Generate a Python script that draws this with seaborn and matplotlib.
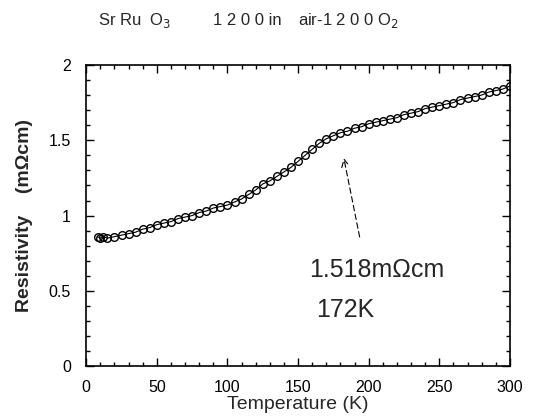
import matplotlib
matplotlib.use("Agg")
import matplotlib.pyplot as plt
import seaborn as sns
from matplotlib.ticker import MultipleLocator

# -------------------------
# data
# -------------------------
temperature = [8, 10, 12, 15, 20, 25, 30, 35, 40, 45, 50, 55, 60, 65, 70, 75,
               80, 85, 90, 95, 100, 105, 110, 115, 120, 125, 130, 135, 140,
               145, 150, 155, 160, 165, 170, 175, 180, 185, 190, 195, 200,
               205, 210, 215, 220, 225, 230, 235, 240, 245, 250, 255, 260,
               265, 270, 275, 280, 285, 290, 295, 300]
resistivity = [0.86, 0.85, 0.86, 0.85, 0.86, 0.87, 0.88, 0.89, 0.91, 0.92,
               0.94, 0.95, 0.96, 0.98, 0.99, 1.00, 1.02, 1.03, 1.05, 1.06,
               1.07, 1.09, 1.11, 1.14, 1.17, 1.21, 1.23, 1.26, 1.29, 1.32,
               1.36, 1.40, 1.44, 1.48, 1.51, 1.53, 1.55, 1.56, 1.58, 1.59,
               1.61, 1.62, 1.63, 1.64, 1.65, 1.67, 1.68, 1.69, 1.71, 1.72,
               1.73, 1.74, 1.75, 1.77, 1.78, 1.79, 1.80, 1.82, 1.83, 1.84,
               1.86]

x_ticks = [0, 50, 100, 150, 200, 250, 300]
y_ticks = [0, 0.5, 1, 1.5, 2]
y_tick_labels = ["0", "0.5", "1", "1.5", "2"]

# -------------------------
# style
# -------------------------
sns.set_style("ticks")
plt.rcParams["font.family"] = ["Liberation Sans", "DejaVu Sans"]

fig = plt.figure(figsize=(5.39, 4.19), dpi=100)
ax = fig.add_axes([0.16, 0.126, 0.786, 0.719])

sns.lineplot(x=temperature, y=resistivity, ax=ax, color="black", lw=0.8,
             marker="o", markersize=5.5, markerfacecolor="none",
             markeredgecolor="black", markeredgewidth=1.0)

ax.set_xlim(0, 300)
ax.set_ylim(0, 2)
ax.set_xticks(x_ticks)
ax.set_yticks(y_ticks)
ax.set_yticklabels(y_tick_labels)
ax.xaxis.set_minor_locator(MultipleLocator(10))
ax.yaxis.set_minor_locator(MultipleLocator(0.1))
ax.tick_params(which="both", direction="in", top=True, right=True,
               labelsize=11.5, width=1, colors="black")
ax.tick_params(axis="x", which="major", pad=10)
ax.tick_params(axis="y", which="major", pad=11)
ax.tick_params(which="major", length=6)
ax.tick_params(which="minor", length=3)
for s in ax.spines.values():
    s.set_linewidth(1.2)
    s.set_color("black")

ax.set_xlabel("Temperature (K)", fontsize=14, labelpad=1)
ax.set_ylabel("Resistivity    (m\u03a9cm)", fontsize=14, fontweight="bold",
              labelpad=11)

# header, spread out like the original lettering
fig.text(0.182, 0.94, "Sr Ru  O$_3$", fontsize=12)
fig.text(0.395, 0.94, "1 2 0 0 in", fontsize=12)
fig.text(0.553, 0.94, "air-1 2 0 0 O$_2$", fontsize=12)

# annotation for the kink
ax.annotate("", xy=(182, 1.40), xytext=(194, 0.84),
            arrowprops=dict(arrowstyle="->", color="black", lw=0.8,
                            linestyle=(0, (5, 3)), mutation_scale=14))
ax.text(158, 0.64, "1.518m\u03a9cm", fontsize=18, va="center")
ax.text(163, 0.37, "172K", fontsize=18, va="center")

plt.savefig("out.png", dpi=100)
